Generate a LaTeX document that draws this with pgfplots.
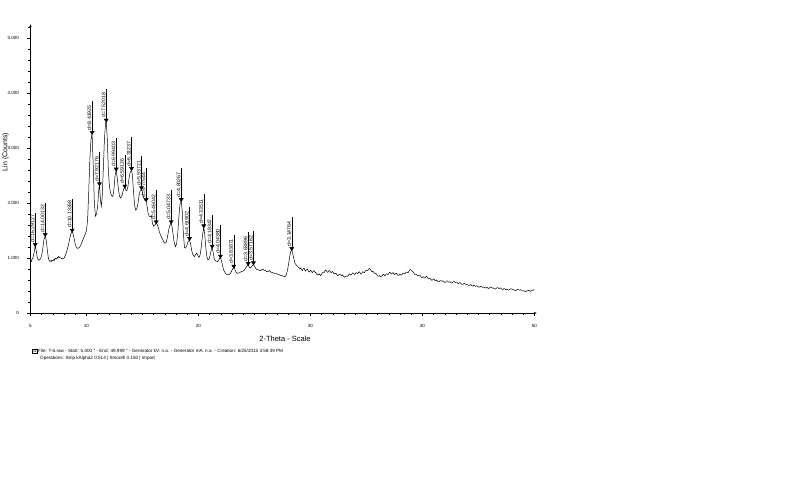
\documentclass[border=0pt]{standalone}
\usepackage{fontspec}
\setmainfont{Liberation Sans}
\usepackage{pgfplots}
\pgfplotsset{compat=1.18}
\usetikzlibrary{arrows.meta}

% peak marker: tick line up plus a small down triangle at the peak
\pgfdeclareplotmark{dpeak}{%
  \pgfpathmoveto{\pgfpoint{0pt}{0pt}}%
  \pgfpathlineto{\pgfpoint{0pt}{33pt}}%
  \pgfusepathqstroke
  \pgfpathmoveto{\pgfpoint{-2pt}{2.6pt}}%
  \pgfpathlineto{\pgfpoint{2pt}{2.6pt}}%
  \pgfpathlineto{\pgfpoint{0pt}{-0.6pt}}%
  \pgfpathclose
  \pgfusepathqfillstroke
}

\begin{document}
\begin{tikzpicture}[x=1pt,y=1pt]
\path[use as bounding box] (-30.5,-187) rectangle (769.5,313);

\begin{axis}[
at={(0pt,0pt)},
anchor=south west,
width=506.2pt,
height=288.75pt,
scale only axis,
clip=false,
xmin=5, xmax=50.2,
ymin=0, ymax=5250,
axis lines=left,
axis line style={line width=0.5pt, -{Stealth[length=3pt,width=2.4pt]}},
tick align=outside,
major tick length=3pt,
minor tick length=2.2pt,
tick style={black, line width=0.4pt},
xtick={5,10,20,30,40,50},
xticklabels={5,10,20,30,40,50},
minor xtick={6,7,8,9,11,12,13,14,15,16,17,18,19,21,22,23,24,25,26,27,28,29,31,32,33,34,35,36,37,38,39,41,42,43,44,45,46,47,48,49},
ytick={0,1000,2000,3000,4000,5000},
yticklabels={0,1.000,2.000,3.000,4.000,5.000},
minor ytick={200,400,600,800,1200,1400,1600,1800,2200,2400,2600,2800,3200,3400,3600,3800,4200,4400,4600,4800,5200},
ticklabel style={font=\fontsize{4.5}{5}\selectfont},
xticklabel style={yshift=-5pt},
yticklabel style={xshift=-5pt},
]
\addplot[black, line width=0.5pt] table {
x y
5.00 930
5.05 955
5.10 940
5.15 985
5.20 990
5.30 1080
5.42 1218
5.50 1150
5.60 1010
5.70 970
5.80 960
5.90 990
6.00 1050
6.10 1180
6.20 1330
6.31 1400
6.40 1330
6.50 1150
6.60 990
6.70 940
6.80 950
6.85 935
6.90 960
7.00 945
7.10 975
7.15 960
7.20 1000
7.30 980
7.40 1010
7.45 995
7.50 1030
7.60 1010
7.70 1000
7.80 990
7.90 985
8.00 1000
8.10 1040
8.20 1100
8.30 1170
8.40 1250
8.50 1350
8.60 1440
8.72 1478
8.80 1440
8.90 1350
9.00 1250
9.10 1190
9.20 1176
9.30 1180
9.40 1200
9.50 1240
9.60 1290
9.70 1340
9.80 1390
9.90 1440
10.00 1500
10.10 1700
10.20 2200
10.30 2800
10.40 3150
10.50 3255
10.60 2700
10.70 2000
10.80 1760
10.90 1800
11.00 1950
11.10 2250
11.16 2322
11.25 2050
11.32 1940
11.40 2100
11.50 2600
11.60 3150
11.70 3450
11.76 3480
11.85 3200
11.95 2600
12.05 2300
12.15 2180
12.25 2130
12.35 2120
12.45 2250
12.55 2500
12.65 2590
12.75 2450
12.85 2250
12.95 2120
13.05 2090
13.15 2120
13.25 2200
13.35 2270
13.42 2280
13.50 2240
13.60 2220
13.70 2300
13.80 2450
13.90 2560
14.02 2600
14.10 2500
14.20 2200
14.30 1950
14.40 1870
14.50 1900
14.60 2000
14.70 2150
14.80 2230
14.91 2250
15.00 2180
15.10 2100
15.20 2050
15.33 2036
15.40 1950
15.50 1820
15.60 1760
15.70 1750
15.80 1770
15.90 1620
16.00 1580
16.10 1600
16.22 1630
16.30 1620
16.40 1560
16.50 1480
16.60 1420
16.70 1380
16.80 1340
16.90 1290
17.00 1270
17.10 1280
17.20 1350
17.30 1460
17.40 1570
17.50 1620
17.56 1630
17.65 1560
17.75 1400
17.85 1260
17.95 1206
18.05 1260
18.15 1450
18.25 1750
18.35 1980
18.46 2036
18.55 1850
18.65 1450
18.75 1190
18.85 1180
18.95 1220
19.05 1290
19.20 1327
19.30 1250
19.40 1130
19.50 1060
19.64 1024
19.75 1070
19.85 1085
19.95 1040
20.05 1010
20.15 1060
20.25 1200
20.35 1400
20.47 1558
20.55 1450
20.65 1200
20.75 1020
20.85 965
20.95 980
21.05 1060
21.15 1160
21.22 1188
21.30 1110
21.40 990
21.50 950
21.60 940
21.70 935
21.80 960
21.90 1000
21.96 1006
22.05 950
22.15 860
22.25 780
22.35 740
22.45 710
22.55 700
22.65 705
22.75 700
22.85 720
22.95 760
23.05 800
23.15 824
23.25 790
23.35 740
23.50 720
23.65 730
23.80 750
23.95 760
24.10 780
24.25 830
24.35 860
24.44 873
24.55 830
24.65 820
24.80 860
24.91 885
25.00 850
25.07 825
25.15 800
25.22 790
25.30 790
25.37 785
25.45 770
25.52 770
25.60 780
25.67 795
25.75 800
25.82 780
25.90 770
25.97 770
26.05 760
26.12 750
26.20 750
26.27 765
26.35 770
26.42 750
26.50 740
26.57 740
26.65 730
26.72 730
26.80 720
26.87 710
26.95 715
27.02 710
27.10 700
27.17 700
27.25 690
27.32 680
27.40 680
27.47 680
27.55 670
27.62 665
27.70 660
27.77 670
27.85 700
27.95 780
28.05 900
28.15 1030
28.25 1120
28.33 1145
28.42 1080
28.52 980
28.62 900
28.75 870
28.90 840
29.05 800
29.12 820
29.20 790
29.27 770
29.35 800
29.42 815
29.50 780
29.57 765
29.65 790
29.72 800
29.80 770
29.87 745
29.95 760
30.02 775
30.10 750
30.17 735
30.25 760
30.32 770
30.40 740
30.47 740
30.55 710
30.62 690
30.70 700
30.77 715
30.85 690
30.92 680
31.00 710
31.07 735
31.15 730
31.22 735
31.30 770
31.37 785
31.45 760
31.52 740
31.60 750
31.67 775
31.75 760
31.82 735
31.90 740
31.97 755
32.05 730
32.12 710
32.20 720
32.27 725
32.35 700
32.42 680
32.50 690
32.57 705
32.65 700
32.72 685
32.80 680
32.87 695
32.95 670
33.02 650
33.10 660
33.17 675
33.25 665
33.32 670
33.40 690
33.47 710
33.55 700
33.62 690
33.70 710
33.77 730
33.85 720
33.92 700
34.00 710
34.07 735
34.15 730
34.22 715
34.30 740
34.37 750
34.45 720
34.52 705
34.60 730
34.67 750
34.75 740
34.82 735
34.90 760
34.97 775
35.05 780
35.12 770
35.20 800
35.27 810
35.35 790
35.42 765
35.50 750
35.57 760
35.65 740
35.72 720
35.80 720
35.87 715
35.95 690
36.02 670
36.10 670
36.17 680
36.25 660
36.32 660
36.40 680
36.47 700
36.55 700
36.62 680
36.70 690
36.77 710
36.85 710
36.92 700
37.00 720
37.07 740
37.15 730
37.22 710
37.30 720
37.37 735
37.45 710
37.52 700
37.60 720
37.67 725
37.75 700
37.82 685
37.90 690
37.97 710
38.05 700
38.12 690
38.20 710
38.27 725
38.35 720
38.42 710
38.50 730
38.57 745
38.65 740
38.72 735
38.80 760
38.87 785
38.95 790
39.02 770
39.10 760
39.17 750
39.25 720
39.32 700
39.40 700
39.47 700
39.55 680
39.62 670
39.70 690
39.77 690
39.85 660
39.92 645
40.00 650
40.07 660
40.15 640
40.22 635
40.30 660
40.37 665
40.45 640
40.52 620
40.60 620
40.67 630
40.75 610
40.82 595
40.90 600
40.97 620
41.05 610
41.12 590
41.20 590
41.27 600
41.35 580
41.42 565
41.50 570
41.57 590
41.65 590
41.72 575
41.80 580
41.87 585
41.95 560
42.02 555
42.10 570
42.17 585
42.25 580
42.32 565
42.40 560
42.47 570
42.55 550
42.62 545
42.70 560
42.77 575
42.85 570
42.92 555
43.00 560
43.07 560
43.15 540
43.22 535
43.30 550
43.37 550
43.45 530
43.52 520
43.60 520
43.67 535
43.75 540
43.82 525
43.90 520
43.97 525
44.05 510
44.12 500
44.20 500
44.27 515
44.35 510
44.42 495
44.50 490
44.57 505
44.65 500
44.72 485
44.80 490
44.87 495
44.95 480
45.02 470
45.10 470
45.17 485
45.25 480
45.32 465
45.40 470
45.47 475
45.55 460
45.62 455
45.70 470
45.77 470
45.85 450
45.92 445
46.00 460
46.07 470
46.15 470
46.22 455
46.30 450
46.37 455
46.45 440
46.52 435
46.60 450
46.67 460
46.75 460
46.82 445
46.90 450
46.97 455
47.05 440
47.12 430
47.20 430
47.27 445
47.35 440
47.42 425
47.50 430
47.57 435
47.65 420
47.72 415
47.80 430
47.87 440
47.95 440
48.02 425
48.10 420
48.17 425
48.25 410
48.32 405
48.40 420
48.47 430
48.55 430
48.62 415
48.70 420
48.77 425
48.85 410
48.92 400
49.00 400
49.07 405
49.15 390
49.22 390
49.30 400
49.37 400
49.45 410
49.52 410
49.60 400
49.67 395
49.75 410
49.82 415
49.90 420
49.95 415
50.00 420
};

% peak picks with d-spacing labels
\addplot[only marks, mark=dpeak, mark options={black, fill=black, line width=0.45pt},
  nodes near coords, point meta=explicit symbolic,
  every node near coord/.style={font=\fontsize{5.2}{5.5}\selectfont, yshift=3pt, rotate=90, anchor=south west, inner sep=0.6pt, black}]
table[meta=label] {
x y label
5.42 1218 d=16.29127
6.31 1400 d=14.00132
8.72 1478 d=10.13268
10.50 3255 d=8.41925
11.16 2322 d=7.92176
11.76 3480 d=7.52018
12.65 2590 d=6.99403
13.42 2280 d=6.59126
14.02 2600 d=6.31237
14.91 2250 d=5.93721
15.33 2036 d=5.77544
16.22 1630 d=5.46042
17.56 1630 d=5.04733
18.46 2036 d=4.80267
19.20 1327 d=4.61902
20.47 1558 d=4.33511
21.22 1188 d=4.18347
21.96 1006 d=4.04380
23.15 824 d=3.83871
24.44 873 d=3.63896
24.91 885 d=3.57162
28.33 1145 d=3.14764
};
\end{axis}

\node[rotate=90, font=\fontsize{7}{8}\selectfont] at (-25,161) {Lin (Counts)};
\node[font=\fontsize{7.5}{9}\selectfont] at (254.5,-26) {2-Theta - Scale};
\node[draw, line width=0.4pt, inner sep=0.4pt, font=\fontsize{4}{4}\selectfont] at (4,-38) {01};
\node[anchor=west, inner sep=0pt, font=\fontsize{4.6}{5}\selectfont] at (7.5,-38)
  {File: T-6.raw - Start: 5.000 ° - End: 49.999 ° - Generator kV: n.a. - Generator mA: n.a. - Creation: 6/25/2015 3:58:39 PM};
\node[anchor=west, inner sep=0pt, font=\fontsize{4.6}{5}\selectfont] at (9.5,-45)
  {Operations: Strip kAlpha2 0.514 | Smooth 0.150 | Import};
\end{tikzpicture}
\end{document}
